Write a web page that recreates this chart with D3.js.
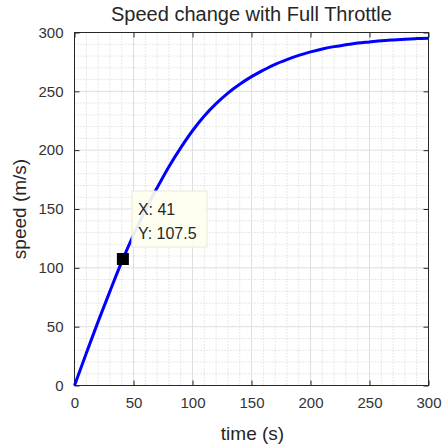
<!DOCTYPE html>
<html>
<head>
<meta charset="utf-8">
<script src="https://cdn.jsdelivr.net/npm/d3@7"></script>
<style>
  html, body { margin: 0; padding: 0; background: #fff; }
  svg { display: block; font-family: "Liberation Sans", Arial, sans-serif; }
</style>
</head>
<body>
<svg id="chart" width="445" height="446"></svg>
<script>
// Speed samples every 10 s
const timeS = [0, 10, 20, 30, 40, 50, 60, 70, 80, 90, 100, 110, 120, 130, 140, 150,
               160, 170, 180, 190, 200, 210, 220, 230, 240, 250, 260, 270, 280, 290, 300];
const speed = [0, 27.4, 54.3, 80, 105, 128, 149, 168, 186, 202, 216.5, 229, 239.5, 248.5, 256, 262.5,
               268, 273, 277, 280.5, 283.5, 286, 288, 289.5, 291, 292, 293, 293.7, 294.3, 294.8, 295.2];
const xTicks = [0, 50, 100, 150, 200, 250, 300];
const yTicks = [0, 50, 100, 150, 200, 250, 300];
const minorStep = 10;
const tip = { x: 41, y: 107.5 };

const svg = d3.select("#chart");
const L = 74.5, R = 428.5, T = 32.5, B = 385.5;

const x = d3.scaleLinear().domain([0, 300]).range([L, R]);
const y = d3.scaleLinear().domain([0, 300]).range([B, T]);

const minor = d3.range(0, 301, minorStep).filter(v => v % 50 !== 0);

// minor grid (dotted)
const g = svg.append("g");
g.selectAll("line.mx").data(minor).join("line")
  .attr("x1", d => x(d)).attr("x2", d => x(d)).attr("y1", T).attr("y2", B)
  .attr("stroke", "#d0d0d0").attr("stroke-width", 1).attr("stroke-dasharray", "1,2");
g.selectAll("line.my").data(minor).join("line")
  .attr("y1", d => y(d)).attr("y2", d => y(d)).attr("x1", L).attr("x2", R)
  .attr("stroke", "#d0d0d0").attr("stroke-width", 1).attr("stroke-dasharray", "1,2");

// major grid
g.selectAll("line.gx").data(xTicks).join("line")
  .attr("x1", d => x(d)).attr("x2", d => x(d)).attr("y1", T).attr("y2", B)
  .attr("stroke", "#dedede").attr("stroke-width", 1);
g.selectAll("line.gy").data(yTicks).join("line")
  .attr("y1", d => y(d)).attr("y2", d => y(d)).attr("x1", L).attr("x2", R)
  .attr("stroke", "#dedede").attr("stroke-width", 1);

// axes with inward ticks
const axisColor = "#262626";
function styleAxis(sel) {
  sel.select(".domain").remove();
  sel.selectAll(".tick line").attr("stroke", axisColor);
  sel.selectAll(".tick text").attr("fill", "#333").attr("font-size", 15)
    .attr("font-family", "Liberation Sans, Arial, sans-serif");
}
svg.append("g").attr("transform", `translate(0,${B})`)
  .call(d3.axisBottom(x).tickValues(xTicks).tickSizeInner(-5).tickSizeOuter(0).tickPadding(12))
  .call(styleAxis);
svg.append("g").attr("transform", `translate(0,${T})`)
  .call(d3.axisTop(x).tickValues(xTicks).tickSizeInner(-5).tickSizeOuter(0).tickFormat(""))
  .call(styleAxis);
svg.append("g").attr("transform", `translate(${L},0)`)
  .call(d3.axisLeft(y).tickValues(yTicks).tickSizeInner(-5).tickSizeOuter(0).tickPadding(11))
  .call(styleAxis);
svg.append("g").attr("transform", `translate(${R},0)`)
  .call(d3.axisRight(y).tickValues(yTicks).tickSizeInner(-5).tickSizeOuter(0).tickFormat(""))
  .call(styleAxis);

// box
svg.append("rect").attr("x", L).attr("y", T).attr("width", R - L).attr("height", B - T)
  .attr("fill", "none").attr("stroke", axisColor).attr("stroke-width", 1);

// speed curve
const pts = timeS.map((t, i) => [t, speed[i]]);
svg.append("path").datum(pts)
  .attr("fill", "none").attr("stroke", "#0000ff").attr("stroke-width", 3)
  .attr("stroke-linejoin", "round")
  .attr("d", d3.line().x(d => x(d[0])).y(d => y(d[1])).curve(d3.curveCatmullRom));

// data tip marker
const mx = x(tip.x), my = y(tip.y);
svg.append("rect").attr("x", mx - 6).attr("y", my - 6).attr("width", 12).attr("height", 12)
  .attr("fill", "#000");

// data tip box
const bx = mx + 9, by = my - 68;
svg.append("rect").attr("x", bx).attr("y", by).attr("width", 75).attr("height", 56)
  .attr("fill", "#fffff0").attr("fill-opacity", 0.92)
  .attr("stroke", "#e8e8d8").attr("stroke-width", 1);
svg.append("text").attr("x", bx + 6).attr("y", by + 24)
  .attr("font-size", 16).attr("fill", axisColor).text(`X: ${tip.x}`);
svg.append("text").attr("x", bx + 6).attr("y", by + 48)
  .attr("font-size", 16).attr("fill", axisColor).text(`Y: ${tip.y}`);

// title and axis labels
svg.append("text").attr("x", (L + R) / 2).attr("y", 21).attr("text-anchor", "middle")
  .attr("font-size", 20).attr("fill", axisColor).text("Speed change with Full Throttle");
svg.append("text").attr("x", (L + R) / 2 + 1).attr("y", 440).attr("text-anchor", "middle")
  .attr("font-size", 19).attr("fill", axisColor).text("time (s)");
svg.append("text").attr("transform", `translate(26,${(T + B) / 2}) rotate(-90)`)
  .attr("text-anchor", "middle").attr("font-size", 19).attr("fill", axisColor)
  .text("speed (m/s)");
</script>
</body>
</html>
